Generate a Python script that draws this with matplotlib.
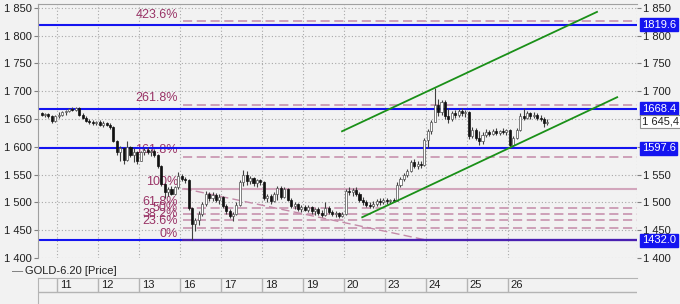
import matplotlib
matplotlib.use('Agg')
import matplotlib.pyplot as plt
import numpy as np

plt.rcParams['font.family'] = ['Liberation Sans', 'DejaVu Sans']
plt.rcParams['font.size'] = 8

# ---- data (12 bars per day, day 10 only partly shown) ----
day_labels = ['11', '12', '13', '16', '17', '18', '19', '20', '23', '24', '25', '26']
bars_per_day = 12
first_full_day = 5   # bars of day 10 shown before day 11

opens = [1660, 1657, 1659, 1656, 1646,
         1655, 1658, 1662, 1664, 1668, 1666, 1670, 1658, 1652, 1647, 1645, 1642,
         1644, 1640, 1643, 1639, 1636, 1610, 1590, 1598, 1576, 1600, 1585, 1590,
         1575, 1590, 1594, 1590, 1593, 1586, 1565, 1533, 1518, 1525, 1516, 1527,
         1548, 1542, 1540, 1490, 1462, 1468, 1480, 1497, 1515, 1508, 1514, 1505,
         1510, 1494, 1484, 1476, 1480, 1496, 1536, 1550, 1538, 1544, 1535, 1540,
         1536, 1508, 1512, 1502, 1515, 1526, 1510, 1524, 1505, 1494, 1497, 1488,
         1492, 1487, 1491, 1484, 1488, 1481, 1478, 1490, 1483, 1479, 1481, 1475,
         1480, 1520, 1518, 1523, 1515, 1504, 1500, 1496, 1493, 1498, 1502, 1500,
         1505, 1502, 1505, 1503, 1532, 1542, 1550, 1556, 1572, 1566, 1570, 1568,
         1612, 1628, 1645, 1675, 1662, 1680, 1656, 1650, 1660, 1658, 1664, 1660,
         1662, 1620, 1630, 1616, 1610, 1622, 1626, 1624, 1628, 1625, 1629, 1627,
         1630, 1604, 1616, 1630, 1656, 1652, 1660, 1655, 1658, 1652, 1650, 1642]
highs = [1662, 1661, 1660, 1657, 1658,
         1662, 1665, 1666, 1670, 1671, 1672, 1671, 1660, 1655, 1650, 1648, 1647,
         1648, 1646, 1645, 1642, 1638, 1612, 1601, 1600, 1610, 1602, 1598, 1592,
         1592, 1598, 1599, 1596, 1597, 1588, 1567, 1535, 1528, 1530, 1529, 1554,
         1552, 1546, 1542, 1492, 1472, 1484, 1500, 1520, 1519, 1518, 1517, 1516,
         1512, 1497, 1488, 1483, 1500, 1540, 1558, 1556, 1548, 1546, 1542, 1543,
         1538, 1516, 1515, 1518, 1530, 1530, 1528, 1526, 1508, 1500, 1499, 1496,
         1496, 1495, 1494, 1490, 1491, 1486, 1500, 1493, 1487, 1484, 1483, 1483,
         1524, 1527, 1526, 1527, 1518, 1510, 1504, 1500, 1502, 1506, 1508, 1508,
         1508, 1507, 1508, 1536, 1545, 1553, 1560, 1576, 1578, 1574, 1574, 1616,
         1632, 1648, 1706, 1686, 1684, 1684, 1670, 1664, 1666, 1668, 1670, 1666,
         1664, 1636, 1634, 1628, 1626, 1632, 1631, 1632, 1633, 1631, 1634, 1632,
         1632, 1620, 1634, 1660, 1670, 1664, 1663, 1662, 1661, 1658, 1654, 1650]
lows = [1655, 1654, 1652, 1643, 1644,
        1652, 1656, 1658, 1662, 1664, 1665, 1656, 1650, 1645, 1641, 1639, 1640,
        1638, 1636, 1637, 1632, 1608, 1586, 1575, 1570, 1575, 1582, 1572, 1570,
        1574, 1585, 1587, 1584, 1582, 1562, 1530, 1508, 1512, 1513, 1514, 1525,
        1538, 1535, 1486, 1432, 1448, 1460, 1476, 1494, 1503, 1502, 1500, 1498,
        1490, 1480, 1472, 1466, 1478, 1494, 1530, 1532, 1534, 1530, 1528, 1532,
        1504, 1500, 1498, 1500, 1505, 1506, 1508, 1502, 1490, 1488, 1484, 1482,
        1484, 1483, 1480, 1478, 1478, 1474, 1476, 1480, 1476, 1473, 1472, 1473,
        1478, 1514, 1512, 1512, 1500, 1496, 1492, 1490, 1490, 1494, 1496, 1497,
        1498, 1499, 1500, 1502, 1528, 1538, 1546, 1554, 1562, 1560, 1562, 1566,
        1598, 1624, 1644, 1655, 1658, 1650, 1643, 1646, 1652, 1654, 1655, 1654,
        1615, 1616, 1612, 1603, 1606, 1618, 1620, 1621, 1622, 1621, 1623, 1622,
        1598, 1602, 1614, 1628, 1648, 1650, 1650, 1651, 1648, 1646, 1635, 1640]
closes = [1657, 1659, 1656, 1646, 1655,
          1658, 1662, 1664, 1668, 1666, 1670, 1658, 1652, 1647, 1645, 1642, 1644,
          1640, 1643, 1639, 1636, 1610, 1590, 1598, 1576, 1600, 1585, 1590, 1575,
          1590, 1594, 1590, 1593, 1586, 1565, 1533, 1518, 1525, 1516, 1527, 1548,
          1542, 1540, 1490, 1462, 1468, 1480, 1497, 1515, 1508, 1514, 1505, 1510,
          1494, 1484, 1476, 1480, 1496, 1536, 1550, 1538, 1544, 1535, 1540, 1536,
          1508, 1512, 1502, 1515, 1526, 1510, 1524, 1505, 1494, 1497, 1488, 1492,
          1487, 1491, 1484, 1488, 1481, 1478, 1490, 1483, 1479, 1481, 1475, 1480,
          1520, 1518, 1523, 1515, 1504, 1500, 1496, 1493, 1498, 1502, 1500, 1505,
          1502, 1505, 1503, 1532, 1542, 1550, 1556, 1572, 1566, 1570, 1568, 1612,
          1628, 1645, 1675, 1662, 1680, 1656, 1650, 1660, 1658, 1664, 1660, 1662,
          1620, 1630, 1616, 1610, 1622, 1626, 1624, 1628, 1625, 1629, 1627, 1630,
          1604, 1616, 1630, 1656, 1652, 1660, 1655, 1658, 1652, 1650, 1642, 1645.4]

# horizontal support / resistance lines (blue) and their labels
h_levels = [1819.6, 1668.4, 1597.6, 1432.0]
last_price = 1645.4

# fibonacci tool: 0% and 100% anchors, start bar, ratios
fib_low, fib_high = 1432.0, 1525.0
fib_start = 42.0
fib_trend_end = 113.3
fib_ratios = [0, 23.6, 38.2, 50, 61.8, 100, 161.8, 261.8, 423.6]

# green channel lines: (x0, y0, x1, y1) in bar index / price
channel_upper = (88.4, 1628.0, 163.0, 1842.8)
channel_lower = (94.3, 1473.3, 168.9, 1689.3)

bg = '#f2f2f2'
blue = '#1414f0'
fib_col = '#993366'
fib_line = '#c48aa8'
green = '#1a9018'

fig = plt.figure(figsize=(6.8, 3.04), dpi=100, facecolor=bg)
W, H = 680, 304
ax = fig.add_axes([38 / W, 1 - 258 / H, (637 - 38) / W, (258 - 4) / H])
ax.set_facecolor(bg)
xmin, xmax = -0.56, 174.7
ax.set_xlim(xmin, xmax)
ax.set_ylim(1400, 1857)

# grid
day_starts = [first_full_day + k * bars_per_day for k in range(len(day_labels))]
for yv in range(1400, 1851, 50):
    ax.axhline(yv, color='#a8a8a8', lw=0.8, ls=(0, (1, 2)), zorder=0)
for xv in day_starts + [xmax]:
    ax.axvline(xv, color='#a8a8a8', lw=0.8, ls=(0, (1, 2)), zorder=0)

# fibonacci levels
rng = fib_high - fib_low
for r in fib_ratios:
    lvl = fib_low + rng * r / 100
    if r == 0:
        ax.plot([fib_start, xmax], [lvl, lvl], color='#4a20b0', lw=1.6, zorder=3)
    elif r == 100:
        ax.plot([fib_start, xmax], [lvl, lvl], color='#d2a6bc', lw=1.5, zorder=1)
    else:
        ax.plot([fib_start, xmax], [lvl, lvl], color=fib_line, lw=1.1,
                ls=(0, (6, 3)), zorder=1)
    lab = f'{r:g}%' if r != 0 else '0%'
    ax.text(fib_start - 1.6, lvl + 1, lab, color=fib_col, fontsize=9,
            ha='right', va='bottom', zorder=1)
ax.plot([fib_start, fib_trend_end], [fib_high, fib_low], color=fib_line,
        lw=1.0, ls=(0, (6, 3)), zorder=1)

# blue lines
for lvl in h_levels:
    ax.axhline(lvl, color=blue, lw=1.5, zorder=2)

# candles
x = np.arange(len(closes)) + 0.5
o = np.array(opens, float)
c = np.array(closes, float)
ax.vlines(x, lows, highs, color='#404040', lw=0.8, zorder=4)
up = c >= o
ax.bar(x[up], (c - o)[up], bottom=o[up], width=0.6, color='white',
       edgecolor='#505050', lw=0.5, zorder=5)
ax.bar(x[~up], (c - o)[~up], bottom=o[~up], width=0.6, color='#111111',
       edgecolor='#111111', lw=0.5, zorder=5)

# channel
for (x0, y0, x1, y1) in (channel_upper, channel_lower):
    ax.plot([x0, x1], [y0, y1], color=green, lw=1.3, zorder=6)

# axes look
for s in ['left', 'top']:
    ax.spines[s].set_color('#a0a0a0')
for s in ['right', 'bottom']:
    ax.spines[s].set_visible(False)
ax.set_xticks([])
ax.set_yticks(range(1400, 1851, 50))
ax.yaxis.set_major_formatter(
    matplotlib.ticker.FuncFormatter(lambda v, _: f'{v:,.0f}'.replace(',', ' ')))
ax.tick_params(axis='y', left=True, right=True, labelleft=True, labelright=True,
               direction='out', length=3, color='#808080', labelsize=8,
               labelcolor='#202020', pad=1.5)

# right side value boxes
for lvl in h_levels:
    ax.annotate(f'{lvl:.1f}', xy=(1, lvl), xycoords=('axes fraction', 'data'),
                xytext=(3.5, 0), textcoords='offset points', ha='left', va='center',
                color='white', fontsize=8, zorder=10, annotation_clip=False,
                bbox=dict(boxstyle='square,pad=0.15', fc=blue, ec=blue))
ax.annotate(f'{last_price:,.1f}'.replace(',', ' ').replace('.', ','),
            xy=(1, last_price), xycoords=('axes fraction', 'data'),
            xytext=(3.5, 0), textcoords='offset points', ha='left', va='center',
            color='#202020', fontsize=8, zorder=10, annotation_clip=False,
            bbox=dict(boxstyle='square,pad=0.15', fc='white', ec='#909090', lw=0.8))

# legend line
fig.text(12 / W, 1 - 271 / H, '\u2014', color='#606060', fontsize=8, va='center')
fig.text(25 / W, 1 - 271 / H, 'GOLD-6.20 [Price]', color='#202020', fontsize=8,
         va='center')

# date row
axd = fig.add_axes([38 / W, 0, (637 - 38) / W, (304 - 278) / H])
axd.set_facecolor(bg)
axd.set_xlim(xmin, xmax)
axd.set_ylim(26, 0)
axd.set_xticks([])
axd.set_yticks([])
for s in ['right', 'bottom']:
    axd.spines[s].set_visible(False)
for s in ['left', 'top']:
    axd.spines[s].set_color('#b4b4b4')
axd.axhline(14, color='#b4b4b4', lw=1)
axd.vlines(day_starts, 0, 14, color='#b4b4b4', lw=1)
for xs, lab in zip(day_starts, day_labels):
    axd.text(xs + 0.8, 7.5, lab, ha='left', va='center', fontsize=8,
             color='#202020')

fig.savefig('out.png', dpi=100, facecolor=bg)
